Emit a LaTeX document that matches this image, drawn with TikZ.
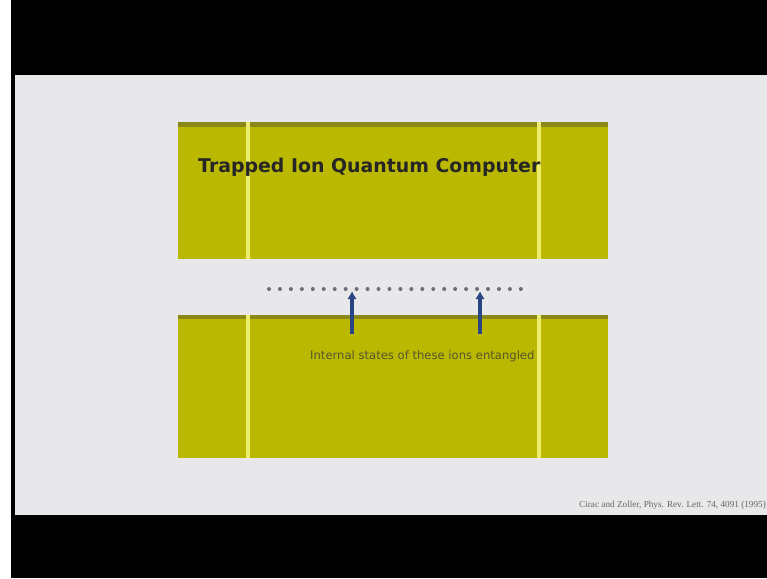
\documentclass[tikz,border=0pt]{standalone}
\usepackage{fontspec}
\setmainfont{DejaVu Sans}
\newfontfamily\citefont{Liberation Serif}
\usetikzlibrary{arrows.meta}
\definecolor{slidegray}{RGB}{232,232,234}
\definecolor{electrode}{RGB}{187,184,2}
\definecolor{electrodetop}{RGB}{140,135,25}
\definecolor{gapline}{RGB}{236,236,110}
\definecolor{ioncol}{RGB}{110,110,120}
\definecolor{arrowblue}{RGB}{40,70,130}
\definecolor{labelcol}{RGB}{85,85,40}
\tikzset{
  electrodebox/.style={fill=electrode, draw=none},
  gap/.style={fill=gapline, draw=none},
  ion/.style={circle, fill=ioncol, inner sep=0pt, minimum size=4pt},
  pointer/.style={draw=arrowblue, line width=3.6pt, -{Latex[length=8pt,width=10pt]}},
}
\begin{document}
\begin{tikzpicture}[x=1pt, y=-1pt]
  \useasboundingbox (0,0) rectangle (767,578);
  % frame
  \fill[white] (0,0) rectangle (767,578);
  \fill[black] (11,0) rectangle (767,578);
  \fill[slidegray] (15,75) rectangle (767,515);

  % upper electrode
  \fill[electrodebox] (178,122) rectangle (608,259);
  \fill[electrodetop] (178,122) rectangle (608,127);
  \fill[gap] (246,122) rectangle (250,259);
  \fill[gap] (537,122) rectangle (541,259);

  % lower electrode
  \fill[electrodebox] (178,315) rectangle (608,458);
  \fill[electrodetop] (178,315) rectangle (608,319);
  \fill[gap] (246,315) rectangle (250,458);
  \fill[gap] (537,315) rectangle (541,458);

  \node[anchor=base west, font=\bfseries\fontsize{18.9}{22}\selectfont, text=black!85, inner sep=0pt] (title) at (198,172) {Trapped Ion Quantum Computer};

  % ion chain
  \foreach \i in {0,...,23} {
    \node[ion] (ion\i) at ({269+\i*10.95},289) {};
  }
  \coordinate (a1) at (352,334);
  \coordinate (a2) at (480,334);
  \draw[pointer] (a1) -- (a1 |- ion0.south);
  \draw[pointer] (a2) -- (a2 |- ion0.south);

  \node[anchor=base west, font=\fontsize{11.6}{13}\selectfont, text=labelcol, inner sep=0pt] (label) at (310,359) {Internal states of these ions entangled};

  \node[anchor=base east, font=\citefont\fontsize{9.2}{10}\selectfont, text=black!60, inner sep=0pt] (cite) at (766,507) {Cirac and Zoller, Phys. Rev. Lett. 74, 4091 (1995)};
\end{tikzpicture}
\end{document}
